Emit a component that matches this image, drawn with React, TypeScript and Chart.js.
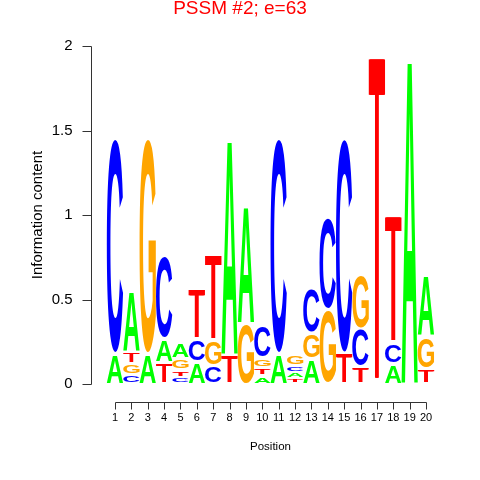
import React, { useEffect, useRef } from 'react';
import { Chart, registerables } from 'chart.js';

Chart.register(...registerables);

// ---- data ----
const positions = ['1','2','3','4','5','6','7','8','9','10','11','12','13','14','15','16','17','18','19','20'];
const heightA = [0.18, 0.367, 0.18, 0.142, 0.095, 0.13, 0, 1.284, 0.70, 0.047, 0.18, 0.038, 0.15, 0, 0, 0, 0, 0.118, 1.935, 0.367];
const heightC = [1.276, 0.056, 0, 0.494, 0.04, 0.135, 0.107, 0, 0, 0.193, 1.276, 0.04, 0.268, 0.544, 1.272, 0.228, 0, 0.12, 0, 0];
const heightG = [0, 0.065, 1.276, 0, 0.065, 0, 0.148, 0, 0.36, 0.059, 0, 0.064, 0.15, 0.438, 0, 0.32, 0, 0, 0, 0.19];
const heightT = [0, 0.068, 0, 0.127, 0.043, 0.303, 0.509, 0.172, 0, 0.05, 0, 0.03, 0, 0, 0.183, 0.098, 1.935, 0.757, 0, 0.089];
const yTicks = [0, 0.5, 1, 1.5, 2];
const titleText = 'PSSM #2; e=63';
const xTitle = 'Position';
const yTitle = 'Information content';

const letters = ['A', 'C', 'G', 'T'];
const letterColors: Record<string, string> = { A: '#00FF00', C: '#0000FF', G: '#FFA500', T: '#FF0000' };
const FONT = "'Liberation Sans', Arial, Helvetica, sans-serif";

const series = [heightA, heightC, heightG, heightT];
const stacks = positions.map((_, i) =>
  letters.map((L, k) => ({ L, h: series[k][i] })).sort((a, b) => a.h - b.h)
);

function drawGlyph(ctx: CanvasRenderingContext2D, L: string, x: number, y: number, w: number, h: number, color: string) {
  ctx.save();
  const thin = L === 'T';
  ctx.font = `${thin ? 'normal' : 'bold'} 100px ${FONT}`;
  ctx.textAlign = 'left';
  ctx.textBaseline = 'alphabetic';
  const m = ctx.measureText(L);
  const left = m.actualBoundingBoxLeft;
  const gw = m.actualBoundingBoxLeft + m.actualBoundingBoxRight;
  const asc = m.actualBoundingBoxAscent;
  const gh = m.actualBoundingBoxAscent + m.actualBoundingBoxDescent;
  ctx.fillStyle = color;
  const extra = thin ? 1.4 : 0;
  const offs = thin ? [0, 0.7, 1.4] : [0];
  offs.forEach((dx) => {
    ctx.save();
    ctx.translate(x + dx, y);
    ctx.scale((w - extra) / gw, h / gh);
    ctx.fillText(L, left, asc);
    ctx.restore();
  });
  ctx.restore();
}

const logoPlugin = {
  id: 'logoLetters',
  afterDatasetsDraw(chart: any) {
    const ctx = chart.ctx as CanvasRenderingContext2D;
    chart.data.datasets.forEach((ds: any, di: number) => {
      const meta = chart.getDatasetMeta(di);
      meta.data.forEach((el: any, i: number) => {
        const p = el.getProps(['x', 'y', 'base', 'width'], true);
        const top = Math.min(p.y, p.base);
        const bottom = Math.max(p.y, p.base);
        const inset = 1.5;
        const h = bottom - top - 2 * inset;
        if (h <= 0.3) return;
        const L = ds.letters[i];
        drawGlyph(ctx, L, p.x - p.width / 2, top + inset, p.width, h, letterColors[L]);
      });
    });
  },
};

const axesPlugin = {
  id: 'rStyleAxes',
  afterDraw(chart: any) {
    const { ctx, chartArea, scales } = chart;
    const xs = scales.x;
    const ys = scales.y;
    ctx.save();
    ctx.strokeStyle = '#333';
    ctx.lineWidth = 1;
    ctx.beginPath();
    const ax = Math.round(chartArea.left - 16) + 0.5;
    const yA = Math.round(ys.getPixelForValue(yTicks[0])) + 0.5;
    const yB = Math.round(ys.getPixelForValue(yTicks[yTicks.length - 1])) + 0.5;
    ctx.moveTo(ax, yA);
    ctx.lineTo(ax, yB);
    ys.ticks.forEach((t: any) => {
      const py = Math.round(ys.getPixelForValue(t.value)) + 0.5;
      ctx.moveTo(ax, py);
      ctx.lineTo(ax - 9, py);
    });
    const ay = Math.round(chartArea.bottom + 18) + 0.5;
    const xA = Math.round(xs.getPixelForTick(0)) + 0.5;
    const xB = Math.round(xs.getPixelForTick(xs.ticks.length - 1)) + 0.5;
    ctx.moveTo(xA, ay);
    ctx.lineTo(xB, ay);
    xs.ticks.forEach((_: any, i: number) => {
      const px = Math.round(xs.getPixelForTick(i)) + 0.5;
      ctx.moveTo(px, ay);
      ctx.lineTo(px, ay + 7);
    });
    ctx.stroke();
    ctx.restore();
  },
};

export default function App() {
  const ref = useRef<HTMLCanvasElement | null>(null);
  useEffect(() => {
    if (!ref.current) return;
    const datasets = [0, 1, 2, 3].map((r) => ({
      label: 'rank' + r,
      data: stacks.map((s) => s[r].h),
      letters: stacks.map((s) => s[r].L),
      backgroundColor: 'rgba(0,0,0,0)',
      borderWidth: 0,
      barPercentage: 1,
      categoryPercentage: 1,
      xAxisID: 'x',
      yAxisID: 'y',
    }));
    const chart = new Chart(ref.current, {
      type: 'bar',
      data: { labels: positions, datasets: datasets as any },
      options: {
        responsive: false,
        animation: false,
        devicePixelRatio: 1,
        layout: { padding: 0 },
        plugins: {
          legend: { display: false },
          tooltip: { enabled: false },
          title: {
            display: true,
            text: titleText,
            color: '#FF0000',
            font: { family: FONT, size: 19, weight: 'normal', lineHeight: 0.9 },
            padding: { top: 0, bottom: 28.9 },
          },
        },
        scales: {
          x: {
            stacked: true,
            grid: { display: false, drawTicks: false },
            border: { display: false },
            ticks: {
              autoSkip: false,
              maxRotation: 0,
              minRotation: 0,
              padding: 27.7,
              color: '#000',
              font: { family: FONT, size: 11 },
            },
            title: {
              display: true,
              text: xTitle,
              color: '#000',
              font: { family: FONT, size: 11.5 },
              padding: { top: 0, bottom: 26.3 },
            },
            afterFit: (s: any) => { s.height = 96; },
          },
          y: {
            stacked: true,
            min: 0,
            max: 2,
            grid: { display: false, drawTicks: false },
            border: { display: false },
            afterBuildTicks: (s: any) => { s.ticks = yTicks.map((v) => ({ value: v })); },
            ticks: {
              padding: 34.3,
              color: '#000',
              font: { family: FONT, size: 15 },
              callback: (v: any) => String(v),
            },
            title: {
              display: true,
              text: yTitle,
              color: '#000',
              font: { family: FONT, size: 15 },
              padding: { top: 29, bottom: 0 },
            },
            afterFit: (s: any) => { s.width = 106.8; },
          },
          yR: {
            type: 'linear',
            position: 'right',
            display: true,
            grid: { display: false, drawTicks: false },
            border: { display: false },
            ticks: { display: false },
            afterFit: (s: any) => { s.width = 45.8; },
          },
        },
      } as any,
      plugins: [logoPlugin, axesPlugin],
    });
    return () => chart.destroy();
  }, []);
  return (
    <div style={{ position: 'fixed', left: 0, top: 0, width: 480, height: 480, background: '#fff' }}>
      <canvas ref={ref} width={480} height={480} style={{ display: 'block' }} />
    </div>
  );
}
